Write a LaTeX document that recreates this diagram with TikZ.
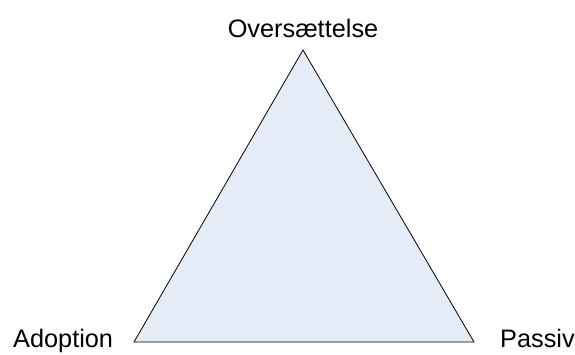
\documentclass[tikz,border=0pt]{standalone}
\usepackage{fontspec}
\setmainfont{Liberation Sans}
\definecolor{trifill}{RGB}{230,236,247}
\begin{document}
\begin{tikzpicture}[x=1pt,y=1pt,
  lbl/.style={font=\fontsize{25.3}{30}\selectfont, inner sep=0pt}]
\useasboundingbox (0,0) rectangle (575,354);
\coordinate (top) at (303,304);
\coordinate (bl) at (134,12);
\coordinate (br) at (474,12);
\draw[fill=trifill, line width=0.8pt, line join=miter] (top) -- (bl) -- (br) -- cycle;
\node[lbl, anchor=base] (o) at (303,316) {Oversættelse};
\node[lbl, anchor=base west] (a) at (13,7) {Adoption};
\node[lbl, anchor=base west] (p) at (500,7) {Passiv};
\end{tikzpicture}
\end{document}
